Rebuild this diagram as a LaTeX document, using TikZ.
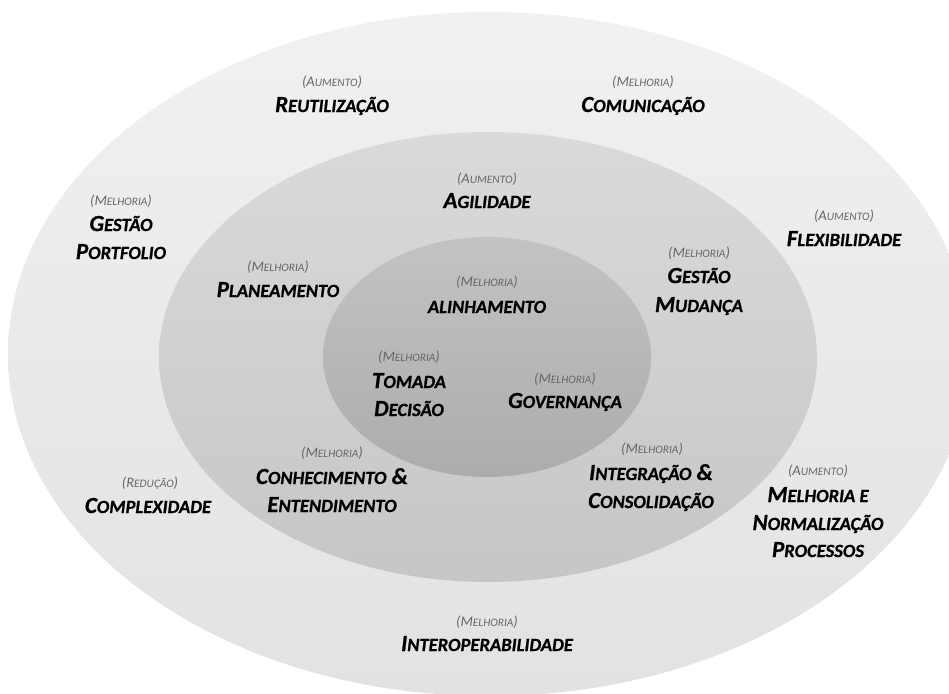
\documentclass[tikz,border=0pt]{standalone}
\usepackage{fontspec}
\setmainfont{Carlito}[BoldItalicFeatures={FakeBold=0.8}]

% ring colours (top -> bottom of each shading)
\definecolor{outerTop}{HTML}{F1F1F1}
\definecolor{outerBot}{HTML}{E2E2E2}
\definecolor{midTop}{HTML}{DADADA}
\definecolor{midBot}{HTML}{C6C6C6}
\definecolor{innTop}{HTML}{C3C3C3}
\definecolor{innBot}{HTML}{ACACAC}
\definecolor{tagGrey}{HTML}{666666}
\definecolor{ttlInk}{HTML}{000000}

% hand-made small caps: large initial, smaller capitals after it
\newcommand\capBig[1]{{\fontsize{23}{26}\selectfont #1}}
\newcommand\capSmall[1]{{\fontsize{18.6}{26}\selectfont #1}}
\newcommand\Ttl[2]{\capBig{#1}\capSmall{#2}}
\newcommand\Tg[2]{{\fontsize{14.5}{16}\selectfont(#1}{\fontsize{11.4}{16}\selectfont #2}{\fontsize{14.5}{16}\selectfont)}}

\tikzset{
  tagnode/.style={anchor=base, inner sep=0pt, text=tagGrey, font=\itshape},
  ttlnode/.style={anchor=base, inner sep=0pt, text=ttlInk, font=\bfseries\itshape},
}

\begin{document}
\begin{tikzpicture}[x=1pt,y=-1pt]
\useasboundingbox (0,0) rectangle (949,693);
\clip (0,0) rectangle (949,693);

% three nested rings
\shade[top color=outerTop, bottom color=outerBot]
  (489,354) ellipse [x radius=481, y radius=342];
\shade[top color=midTop, bottom color=midBot]
  (488,357) ellipse [x radius=329, y radius=225];
\shade[top color=innTop, bottom color=innBot]
  (487,357) ellipse [x radius=164, y radius=120];

% outer ring
\node[tagnode] (reuT) at (332,86) {\Tg{A}{UMENTO}};
\node[ttlnode] (reu) at (332,112) {\Ttl{R}{EUTILIZAÇÃO}};

\node[tagnode] (comT) at (643,86) {\Tg{M}{ELHORIA}};
\node[ttlnode] (com) at (643,112) {\Ttl{C}{OMUNICAÇÃO}};

\node[tagnode] (gpT) at (121,205) {\Tg{M}{ELHORIA}};
\node[ttlnode] (gp1) at (121,231) {\Ttl{G}{ESTÃO}};
\node[ttlnode] (gp2) at (121,259) {\Ttl{P}{ORTFOLIO}};

\node[tagnode] (flxT) at (844,220) {\Tg{A}{UMENTO}};
\node[ttlnode] (flx) at (844,246) {\Ttl{F}{LEXIBILIDADE}};

\node[tagnode] (cpxT) at (150,487) {\Tg{R}{EDUÇÃO}};
\node[ttlnode] (cpx) at (148,513) {\Ttl{C}{OMPLEXIDADE}};

\node[tagnode] (mnpT) at (818,475) {\Tg{A}{UMENTO}};
\node[ttlnode] (mnp1) at (818,502) {\Ttl{M}{ELHORIA E}};
\node[ttlnode] (mnp2) at (818,530) {\Ttl{N}{ORMALIZAÇÃO}};
\node[ttlnode] (mnp3) at (818,557) {\Ttl{P}{ROCESSOS}};

\node[tagnode] (intT) at (487,626) {\Tg{M}{ELHORIA}};
\node[ttlnode] (int) at (487,651) {\Ttl{I}{NTEROPERABILIDADE}};

% middle ring
\node[tagnode] (agiT) at (487,183) {\Tg{A}{UMENTO}};
\node[ttlnode] (agi) at (487,208) {\Ttl{A}{GILIDADE}};

\node[tagnode] (plaT) at (278,271) {\Tg{M}{ELHORIA}};
\node[ttlnode] (pla) at (278,297) {\Ttl{P}{LANEAMENTO}};

\node[tagnode] (gmT) at (699,257) {\Tg{M}{ELHORIA}};
\node[ttlnode] (gm1) at (699,283) {\Ttl{G}{ESTÃO}};
\node[ttlnode] (gm2) at (699,312) {\Ttl{M}{UDANÇA}};

\node[tagnode] (conT) at (332,457) {\Tg{M}{ELHORIA}};
\node[ttlnode] (con1) at (332,484) {\Ttl{C}{ONHECIMENTO}\capBig{ \&}};
\node[ttlnode] (con2) at (332,512) {\Ttl{E}{NTENDIMENTO}};

\node[tagnode] (icT) at (652,453) {\Tg{M}{ELHORIA}};
\node[ttlnode] (ic1) at (651,480) {\Ttl{I}{NTEGRAÇÃO}\capBig{ \&}};
\node[ttlnode] (ic2) at (651,508) {\Ttl{C}{ONSOLIDAÇÃO}};

% inner ring
\node[tagnode] (aliT) at (487,286) {\Tg{M}{ELHORIA}};
\node[ttlnode] (ali) at (487,313) {\capSmall{ALINHAMENTO}};

\node[tagnode] (tdT) at (409,361) {\Tg{M}{ELHORIA}};
\node[ttlnode] (td1) at (409,388) {\Ttl{T}{OMADA}};
\node[ttlnode] (td2) at (409,416) {\Ttl{D}{ECISÃO}};

\node[tagnode] (govT) at (565,383) {\Tg{M}{ELHORIA}};
\node[ttlnode] (gov) at (565,408) {\Ttl{G}{OVERNANÇA}};
\end{tikzpicture}
\end{document}
